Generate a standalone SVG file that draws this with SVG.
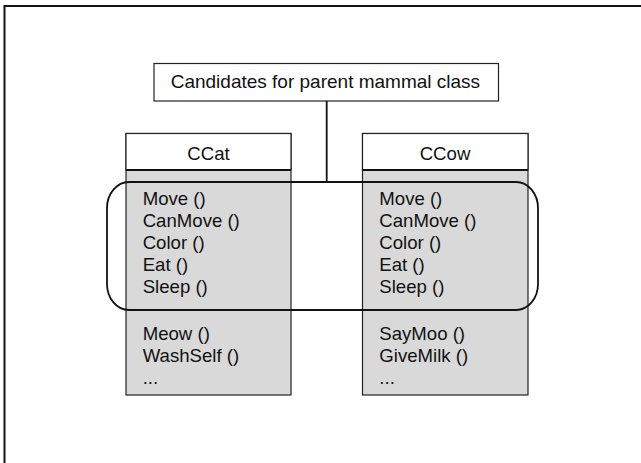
<svg xmlns="http://www.w3.org/2000/svg" width="641" height="463" viewBox="0 0 641 463">
<style>
text{font-family:"Liberation Sans",Arial,sans-serif;font-size:18.6px;fill:#111}
.box{fill:#fff;stroke:#222;stroke-width:1.2}
.body{fill:#d9d9d9;stroke:#222;stroke-width:1.2}
.sep{stroke:#111;stroke-width:2}
.line{fill:none;stroke:#111;stroke-width:1.8}
</style>
<rect x="4.5" y="6" width="700" height="500" fill="#fff" stroke="#111" stroke-width="2"/>
<g id="label">
<rect class="box" x="154" y="63.5" width="344.5" height="37.5"/>
<text x="170.7" y="88" style="font-size:19px">Candidates for parent mammal class</text>
</g>
<g id="ccat">
<rect class="body" x="126" y="133.5" width="165" height="261.5"/>
<rect class="box" x="126" y="133.5" width="165" height="36.5"/>
<line class="sep" x1="126" y1="170" x2="291" y2="170"/>
<text x="208.5" y="159.5" text-anchor="middle">CCat</text>
<text x="142.7" y="204.5">Move ()</text>
<text x="142.7" y="226.5">CanMove ()</text>
<text x="142.7" y="248.5">Color ()</text>
<text x="142.7" y="271">Eat ()</text>
<text x="142.7" y="293">Sleep ()</text>
<text x="142.7" y="339.5">Meow ()</text>
<text x="142.7" y="361.5">WashSelf ()</text>
<text x="142.7" y="383.5">...</text>
</g>
<g id="ccow">
<rect class="body" x="362.5" y="133.5" width="165.5" height="261.5"/>
<rect class="box" x="362.5" y="133.5" width="165.5" height="36.5"/>
<line class="sep" x1="362.5" y1="170" x2="528" y2="170"/>
<text x="445" y="159.5" text-anchor="middle">CCow</text>
<text x="379.3" y="204.5">Move ()</text>
<text x="379.3" y="226.5">CanMove ()</text>
<text x="379.3" y="248.5">Color ()</text>
<text x="379.3" y="271">Eat ()</text>
<text x="379.3" y="293">Sleep ()</text>
<text x="379.3" y="339.5">SayMoo ()</text>
<text x="379.3" y="361.5">GiveMilk ()</text>
<text x="379.3" y="383.5">...</text>
</g>
<g id="connectors">
<line class="line" x1="326.7" y1="101" x2="326.7" y2="182"/>
<rect class="line" x="107" y="182" width="431" height="128" rx="22" ry="26"/>
</g>
</svg>
